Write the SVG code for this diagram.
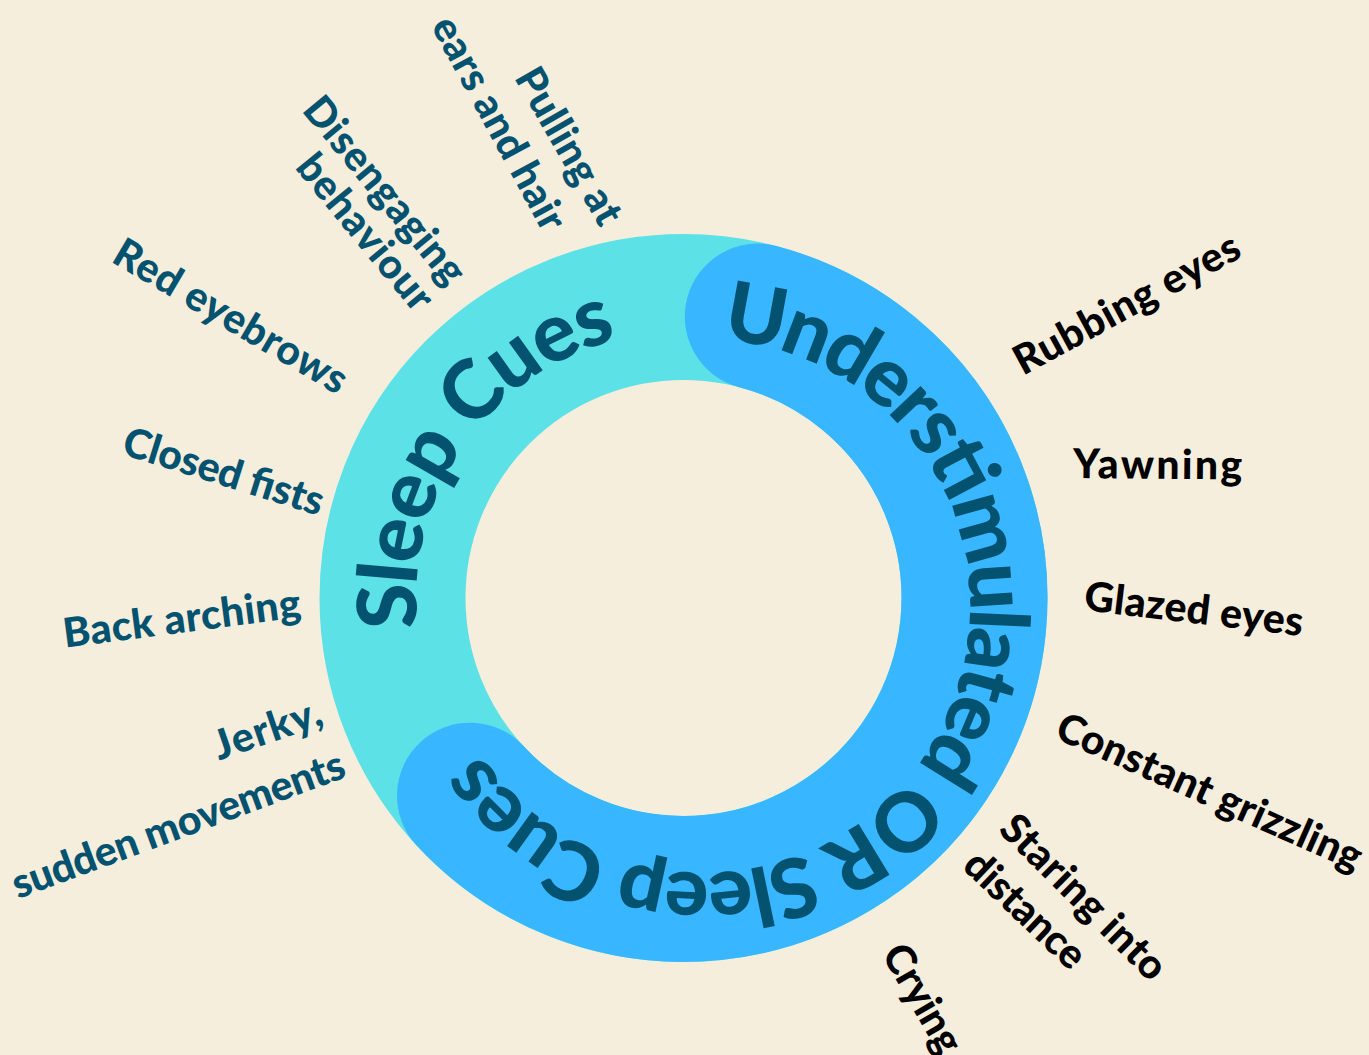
<svg xmlns="http://www.w3.org/2000/svg" width="1369" height="1055" viewBox="0 0 1369 1055">
  <style>
    .ring-text { font-family: "Lato", "Liberation Sans", sans-serif; font-weight: 900; font-size: 82px; fill: #03526F; }
    .lbl { font-family: "Lato", "Liberation Sans", sans-serif; font-weight: 900; font-size: 41px; }
    .lbl-left { fill: #03526F; text-anchor: end; }
    .lbl-right { fill: #000000; text-anchor: start; }
  </style>
  <defs>
    <!-- baseline circle for the left ring label -->
    <path id="cyanPath" d="M 417.9 628 A 267 267 0 0 1 637.1 335.1"/>
    <!-- baseline circle for the right/bottom ring label -->
    <path id="bluePath" d="M 721.6 339.6 A 267 267 0 1 1 471.8 739.5"/>
  </defs>

  <rect width="1369" height="1055" fill="#F6EEDD"/>

  <!-- ring -->
  <g id="ring">
    <circle cx="683.5" cy="598" r="291" fill="none" stroke="#5CE1E6" stroke-width="146"/>
    <path d="M 757.8 316.6 A 291 291 0 1 1 470 795.7" fill="none" stroke="#38B6FF" stroke-width="146" stroke-linecap="round"/>
  </g>

  <g id="ring-labels">
    <text class="ring-text"><textPath href="#cyanPath" textLength="383" lengthAdjust="spacing">Sleep Cues</textPath></text>
    <text class="ring-text"><textPath href="#bluePath" textLength="1083" lengthAdjust="spacing">Understimulated OR Sleep Cues</textPath></text>
  </g>

  <g id="connectors"></g>

  <!-- sleep cues (left) -->
  <g id="pulling-at-ears">
    <text class="lbl lbl-left" transform="translate(600.2 228.5) rotate(60.2)" textLength="174">Pulling at</text>
    <text class="lbl lbl-left" transform="translate(543.5 234.1) rotate(61.5)" textLength="237">ears and hair</text>
  </g>
  <g id="disengaging">
    <text class="lbl lbl-left" transform="translate(447.3 287.9) rotate(50.5)" textLength="230">Disengaging</text>
    <text class="lbl lbl-left" transform="translate(415 314.3) rotate(50.5)" textLength="190">behaviour</text>
  </g>
  <g id="red-eyebrows">
    <text class="lbl lbl-left" transform="translate(337.5 395.2) rotate(30.5)" textLength="264">Red eyebrows</text>
  </g>
  <g id="closed-fists">
    <text class="lbl lbl-left" transform="translate(318.8 515.9) rotate(17.4)" textLength="208">Closed fists</text>
  </g>
  <g id="back-arching">
    <text class="lbl lbl-left" transform="translate(302 617) rotate(-7.4)" textLength="239">Back arching</text>
  </g>
  <g id="jerky-movements">
    <text class="lbl lbl-left" transform="translate(325 724) rotate(-19)" textLength="112">Jerky,</text>
    <text class="lbl lbl-left" transform="translate(348 776.3) rotate(-20.4)" textLength="352">sudden movements</text>
  </g>

  <!-- understimulated or sleep cues (right) -->
  <g id="rubbing-eyes">
    <text class="lbl lbl-right" transform="translate(1023.1 375.9) rotate(-28.5)" textLength="251">Rubbing eyes</text>
  </g>
  <g id="yawning">
    <text class="lbl lbl-right" transform="translate(1073 478) rotate(0.5)" textLength="169">Yawning</text>
  </g>
  <g id="glazed-eyes">
    <text class="lbl lbl-right" transform="translate(1083.1 610.1) rotate(6.8)" textLength="220">Glazed eyes</text>
  </g>
  <g id="constant-grizzling">
    <text class="lbl lbl-right" transform="translate(1053.2 737.5) rotate(24)" textLength="330">Constant grizzling</text>
  </g>
  <g id="staring-into-distance">
    <text class="lbl lbl-right" transform="translate(997.3 831) rotate(44.8)" textLength="216">Staring into</text>
    <text class="lbl lbl-right" transform="translate(960.9 867.8) rotate(43.5)" textLength="151">distance</text>
  </g>
  <g id="crying">
    <text class="lbl lbl-right" transform="translate(881 954) rotate(60)" textLength="119">Crying</text>
  </g>
</svg>
